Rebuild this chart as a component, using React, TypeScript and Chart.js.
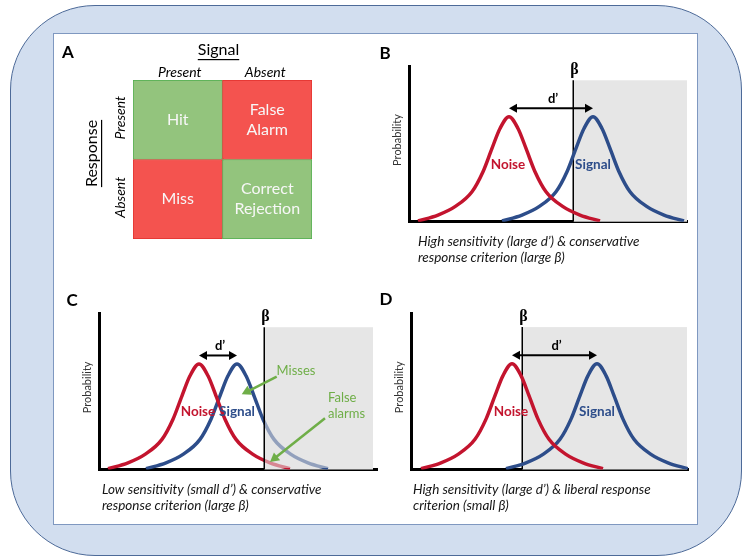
import React, { useEffect, useRef } from "react";
import { Chart, registerables } from "chart.js";

Chart.register(...registerables);

const FONT = "Lato, 'Open Sans', 'DejaVu Sans', sans-serif";
const GREEK_FONT = "'Liberation Serif', 'DejaVu Serif', serif";

// ---------------- Panel A: outcome matrix ----------------
const SIGNAL_LEVELS = ["Present", "Absent"];
const RESPONSE_LEVELS = ["Present", "Absent"]; // top row, bottom row
const ROW_PRESENT_LABELS = ["Hit", "False\nAlarm"];
const ROW_ABSENT_LABELS = ["Miss", "Correct\nRejection"];
const ROW_PRESENT_VALUES = [1, 1];
const ROW_ABSENT_VALUES = [1, 1];

// ---------------- Panels B–D: noise / signal distributions ----------------
// shared curve height profile (% of axis height)
const DIST_Y = [0.5, 4.3, 9.7, 19.3, 32.2, 47.2, 60.0, 67.6, 60.0, 47.2, 32.2, 19.3, 9.7, 4.3, 0.5];

const B_NOISE_X = [9, 29, 46, 63, 74, 83, 91, 100, 109, 117, 126, 137, 154, 171, 191];
const B_SIGNAL_X = [93, 113, 130, 147, 158, 167, 175, 184, 193, 201, 210, 221, 238, 255, 275];
const C_NOISE_X = [9, 29, 46, 63, 74, 83, 91, 100, 109, 117, 126, 137, 154, 171, 191];
const C_SIGNAL_X = [47, 67, 84, 101, 112, 121, 129, 138, 147, 155, 164, 175, 192, 209, 229];
const D_NOISE_X = [10, 30, 47, 64, 75, 84, 92, 101, 110, 118, 127, 138, 155, 172, 192];
const D_SIGNAL_X = [95, 115, 132, 149, 160, 169, 177, 186, 195, 203, 212, 223, 240, 257, 277];

const B_BETA = 164;
const C_BETA = 165;
const D_BETA = 111;

const B_CAPTION = ["High sensitivity (large d\u2019) & conservative", "response criterion (large \u03B2)"];
const C_CAPTION = ["Low sensitivity (small d\u2019) & conservative", "response criterion (large \u03B2)"];
const D_CAPTION = ["High sensitivity (large d\u2019) & liberal response", "criterion (small \u03B2)"];

const C_NOTE_TEXT = [
  { text: "Misses", x: 197, y: 63, align: "center" as CanvasTextAlign },
  { text: "False", x: 229, y: 46, align: "left" as CanvasTextAlign },
  { text: "alarms", x: 229, y: 35.5, align: "left" as CanvasTextAlign },
];
const C_NOTE_ARROWS = [
  { from: [177.7, 59.4], to: [142.7, 48.1] },
  { from: [226, 32.8], to: [171, 4.8] },
];

// ---------------- colours ----------------
const CELL_GREEN = "#93c47d";
const CELL_GREEN_EDGE = "#4fae4f";
const CELL_RED = "#f4534f";
const CELL_RED_EDGE = "#e2302c";
const NOISE_RED = "#c3142e";
const SIGNAL_BLUE = "#2d4d8a";
const GRAY = "#e6e6e6";
const NOTE_GREEN = "#6fae48";

type Box = { left: number; top: number; width: number; height: number };
type Area = { left: number; top: number; right: number; bottom: number };

function padFor(box: Box, area: Area) {
  return {
    left: area.left - box.left,
    top: area.top - box.top,
    right: box.left + box.width - area.right,
    bottom: box.top + box.height - area.bottom,
  };
}

function arrow(
  ctx: CanvasRenderingContext2D,
  x1: number, y1: number, x2: number, y2: number,
  len: number, half: number, both: boolean, width: number, color: string
) {
  const a = Math.atan2(y2 - y1, x2 - x1);
  const c = Math.cos(a), s = Math.sin(a);
  ctx.save();
  ctx.strokeStyle = color;
  ctx.fillStyle = color;
  ctx.lineWidth = width;
  ctx.beginPath();
  const sx = both ? x1 + c * len * 0.7 : x1;
  const sy = both ? y1 + s * len * 0.7 : y1;
  ctx.moveTo(sx, sy);
  ctx.lineTo(x2 - c * len * 0.7, y2 - s * len * 0.7);
  ctx.stroke();
  const head = (hx: number, hy: number, dc: number, ds: number) => {
    ctx.beginPath();
    ctx.moveTo(hx, hy);
    ctx.lineTo(hx - dc * len + ds * half, hy - ds * len - dc * half);
    ctx.lineTo(hx - dc * len - ds * half, hy - ds * len + dc * half);
    ctx.closePath();
    ctx.fill();
  };
  head(x2, y2, c, s);
  if (both) head(x1, y1, -c, -s);
  ctx.restore();
}

function ChartCanvas({ box, make }: { box: Box; make: (c: HTMLCanvasElement) => Chart }) {
  const ref = useRef<HTMLCanvasElement>(null);
  useEffect(() => {
    const chart = make(ref.current as HTMLCanvasElement);
    return () => chart.destroy();
  }, []);
  return (
    <canvas
      ref={ref}
      width={box.width}
      height={box.height}
      style={{ position: "absolute", left: box.left, top: box.top, width: box.width, height: box.height }}
    />
  );
}

// ---------------- Panel A ----------------
const A_BOX: Box = { left: 56, top: 36, width: 300, height: 220 };
const A_AREA: Area = { left: 133, top: 80, right: 312, bottom: 239 };

function makeMatrix(canvas: HTMLCanvasElement) {
  const labelPlugin = {
    id: "matrixText",
    afterDraw(chart: any) {
      const ctx: CanvasRenderingContext2D = chart.ctx;
      const ca = chart.chartArea;
      const xs = chart.scales.x;
      const ys = chart.scales.y;
      ctx.save();
      ctx.textAlign = "center";
      ctx.textBaseline = "middle";
      // panel letter
      ctx.fillStyle = "#000";
      ctx.font = `bold 17px ${FONT}`;
      ctx.fillText("A", ca.left - 65, ca.top - 27);
      // Signal title (underlined)
      const midX = (ca.left + ca.right) / 2;
      ctx.font = `16px ${FONT}`;
      ctx.fillText("Signal", midX - 4, ca.top - 30);
      let w = ctx.measureText("Signal").width;
      ctx.fillRect(midX - 4 - w / 2, ca.top - 21, w, 1.2);
      // column labels
      ctx.font = `italic 14px ${FONT}`;
      SIGNAL_LEVELS.forEach((lab, i) => {
        ctx.fillText(lab, xs.getPixelForValue(i) + (i === 0 ? 2 : -2), ca.top - 8);
      });
      // Response title (rotated, underlined)
      const midY = (ca.top + ca.bottom) / 2;
      ctx.save();
      ctx.translate(ca.left - 41, midY - 6);
      ctx.rotate(-Math.PI / 2);
      ctx.font = `16px ${FONT}`;
      ctx.fillText("Response", 0, 0);
      w = ctx.measureText("Response").width;
      ctx.fillRect(-w / 2, 9, w, 1.2);
      ctx.restore();
      // row labels (rotated)
      ctx.font = `italic 14px ${FONT}`;
      RESPONSE_LEVELS.forEach((lab, i) => {
        const yv = i === 0 ? 1.5 : 0.5;
        ctx.save();
        ctx.translate(ca.left - 13, ys.getPixelForValue(yv) - 2);
        ctx.rotate(-Math.PI / 2);
        ctx.fillText(lab, 0, 0);
        ctx.restore();
      });
      // cell labels
      ctx.fillStyle = "#f7f7f7";
      ctx.font = `16px ${FONT}`;
      const rows = [ROW_ABSENT_LABELS, ROW_PRESENT_LABELS];
      rows.forEach((labels, di) => {
        const meta = chart.getDatasetMeta(di);
        meta.data.forEach((el: any, j: number) => {
          const p = el.getProps(["x", "y", "base"], true);
          const cy = (p.y + p.base) / 2;
          const lines = labels[j].split("\n");
          lines.forEach((ln: string, k: number) => {
            ctx.fillText(ln, p.x, cy + (k - (lines.length - 1) / 2) * 20);
          });
        });
      });
      ctx.restore();
    },
  };
  return new Chart(canvas, {
    type: "bar",
    data: {
      labels: SIGNAL_LEVELS,
      datasets: [
        {
          label: "Response: Absent",
          data: ROW_ABSENT_VALUES,
          backgroundColor: [CELL_RED, CELL_GREEN],
          borderColor: [CELL_RED_EDGE, CELL_GREEN_EDGE],
          borderWidth: 1,
          borderSkipped: false,
          barPercentage: 1,
          categoryPercentage: 1,
        },
        {
          label: "Response: Present",
          data: ROW_PRESENT_VALUES,
          backgroundColor: [CELL_GREEN, CELL_RED],
          borderColor: [CELL_GREEN_EDGE, CELL_RED_EDGE],
          borderWidth: 1,
          borderSkipped: false,
          barPercentage: 1,
          categoryPercentage: 1,
        },
      ],
    },
    options: {
      animation: false,
      responsive: false,
      maintainAspectRatio: false,
      events: [],
      layout: { padding: padFor(A_BOX, A_AREA) },
      plugins: { legend: { display: false }, tooltip: { enabled: false } },
      scales: {
        x: { display: false, stacked: true },
        y: { display: false, stacked: true, min: 0, max: 2 },
      },
    },
    plugins: [labelPlugin],
  } as any);
}

// ---------------- Panels B–D ----------------
type PanelConfig = {
  letter: string;
  letterDx: number;
  box: Box;
  area: Area;
  xMax: number;
  noiseX: number[];
  signalX: number[];
  beta: number;
  grayRight: number;
  fade: boolean;
  caption: string[];
  captionIndent: number;
  notes: boolean;
};

const GRAY_TOP = 91;
const DPRIME_Y = 73;

function makeDistPanel(cfg: PanelConfig) {
  return (canvas: HTMLCanvasElement) => {
    const noisePeak = cfg.noiseX[7];
    const signalPeak = cfg.signalX[7];
    const drawBeta = (chart: any) => {
      const ctx: CanvasRenderingContext2D = chart.ctx;
      const xs = chart.scales.x, ys = chart.scales.y;
      const bx = Math.round(xs.getPixelForValue(cfg.beta)) + 0.25;
      ctx.save();
      ctx.strokeStyle = "#000";
      ctx.lineWidth = 1.5;
      ctx.beginPath();
      ctx.moveTo(bx, ys.getPixelForValue(GRAY_TOP));
      ctx.lineTo(bx, ys.getPixelForValue(0));
      ctx.stroke();
      ctx.restore();
    };
    const plugin = {
      id: "sdt" + cfg.letter,
      beforeDatasetsDraw(chart: any) {
        const ctx: CanvasRenderingContext2D = chart.ctx;
        const xs = chart.scales.x, ys = chart.scales.y;
        const x0 = xs.getPixelForValue(cfg.beta);
        const x1 = xs.getPixelForValue(cfg.grayRight);
        const y0 = ys.getPixelForValue(GRAY_TOP);
        const y1 = ys.getPixelForValue(0);
        ctx.save();
        ctx.fillStyle = GRAY;
        ctx.fillRect(x0, y0, x1 - x0, y1 - y0);
        ctx.restore();
        if (!cfg.fade) drawBeta(chart);
      },
      afterDatasetsDraw(chart: any) {
        const ctx: CanvasRenderingContext2D = chart.ctx;
        const xs = chart.scales.x, ys = chart.scales.y;
        if (cfg.fade) {
          const x0 = xs.getPixelForValue(cfg.beta);
          const x1 = xs.getPixelForValue(cfg.grayRight);
          const y0 = ys.getPixelForValue(GRAY_TOP);
          const y1 = ys.getPixelForValue(0) - 1.5;
          ctx.save();
          ctx.fillStyle = "rgba(230,230,230,0.55)";
          ctx.fillRect(x0, y0, x1 - x0, y1 - y0);
          ctx.restore();
          drawBeta(chart);
        }
      },
      afterDraw(chart: any) {
        const ctx: CanvasRenderingContext2D = chart.ctx;
        const ca = chart.chartArea;
        const xs = chart.scales.x, ys = chart.scales.y;
        ctx.save();
        ctx.textAlign = "center";
        ctx.textBaseline = "middle";
        // beta label
        ctx.fillStyle = "#000";
        ctx.font = `bold 16px ${GREEK_FONT}`;
        ctx.fillText("\u03B2", xs.getPixelForValue(cfg.beta) + 1.5, ys.getPixelForValue(97.5));
        // d' arrow
        arrow(
          ctx,
          xs.getPixelForValue(noisePeak), ys.getPixelForValue(DPRIME_Y),
          xs.getPixelForValue(signalPeak), ys.getPixelForValue(DPRIME_Y),
          8, 4.5, true, 2, "#000"
        );
        ctx.font = `bold 13px ${FONT}`;
        ctx.fillText("d\u2019", xs.getPixelForValue((noisePeak + signalPeak) / 2) + 2, ys.getPixelForValue(79));
        // distribution labels
        ctx.font = `bold 13.5px ${FONT}`;
        ctx.fillStyle = NOISE_RED;
        ctx.fillText("Noise", xs.getPixelForValue(noisePeak - 1), ys.getPixelForValue(37));
        ctx.fillStyle = SIGNAL_BLUE;
        ctx.fillText("Signal", xs.getPixelForValue(signalPeak), ys.getPixelForValue(37));
        // annotations
        if (cfg.notes) {
          ctx.fillStyle = NOTE_GREEN;
          ctx.font = `13px ${FONT}`;
          C_NOTE_TEXT.forEach((n) => {
            ctx.textAlign = n.align;
            ctx.fillText(n.text, xs.getPixelForValue(n.x), ys.getPixelForValue(n.y));
          });
          C_NOTE_ARROWS.forEach((a) => {
            arrow(
              ctx,
              xs.getPixelForValue(a.from[0]), ys.getPixelForValue(a.from[1]),
              xs.getPixelForValue(a.to[0]), ys.getPixelForValue(a.to[1]),
              9, 5, false, 2.5, NOTE_GREEN
            );
          });
          ctx.textAlign = "center";
        }
        // panel letter
        ctx.fillStyle = "#000";
        ctx.font = `bold 17px ${FONT}`;
        ctx.fillText(cfg.letter, ca.left + cfg.letterDx, ca.top - 13);
        // y axis title
        ctx.save();
        ctx.translate(ca.left - 11.5, (ca.top + ca.bottom) / 2 - 4);
        ctx.rotate(-Math.PI / 2);
        ctx.fillStyle = "#333";
        ctx.font = `11px ${FONT}`;
        ctx.fillText("Probability", 0, 0);
        ctx.restore();
        // caption
        ctx.textAlign = "left";
        ctx.fillStyle = "#151515";
        ctx.font = `italic 13.5px ${FONT}`;
        cfg.caption.forEach((ln, k) => {
          ctx.fillText(ln, ca.left + cfg.captionIndent, ca.bottom + 20 + k * 16);
        });
        ctx.restore();
      },
    };
    const axisOpts = (max: number) => ({
      type: "linear",
      min: 0,
      max,
      ticks: { display: false },
      grid: { display: false, drawTicks: false },
      border: { display: true, width: 3, color: "#000" },
    });
    return new Chart(canvas, {
      type: "line",
      data: {
        datasets: [
          {
            label: "Noise",
            data: cfg.noiseX.map((x, i) => ({ x, y: DIST_Y[i] })),
            borderColor: NOISE_RED,
            borderWidth: 3.5,
            pointRadius: 0,
            cubicInterpolationMode: "monotone",
            fill: false,
          },
          {
            label: "Signal",
            data: cfg.signalX.map((x, i) => ({ x, y: DIST_Y[i] })),
            borderColor: SIGNAL_BLUE,
            borderWidth: 3.5,
            pointRadius: 0,
            cubicInterpolationMode: "monotone",
            fill: false,
          },
        ],
      },
      options: {
        animation: false,
        responsive: false,
        maintainAspectRatio: false,
        events: [],
        layout: { padding: padFor(cfg.box, cfg.area) },
        plugins: { legend: { display: false }, tooltip: { enabled: false } },
        scales: { x: axisOpts(cfg.xMax), y: axisOpts(100) },
      },
      plugins: [plugin],
    } as any);
  };
}

const PANEL_B: PanelConfig = {
  letter: "B",
  letterDx: -24,
  box: { left: 360, top: 36, width: 335, height: 240 },
  area: { left: 409, top: 66.3, right: 687, bottom: 221.7 },
  xMax: 278,
  noiseX: B_NOISE_X,
  signalX: B_SIGNAL_X,
  beta: B_BETA,
  grayRight: 278,
  fade: false,
  caption: B_CAPTION,
  captionIndent: 9,
  notes: false,
};

const PANEL_C: PanelConfig = {
  letter: "C",
  letterDx: -27,
  box: { left: 45, top: 284, width: 340, height: 240 },
  area: { left: 99, top: 313.3, right: 377, bottom: 469.5 },
  xMax: 278,
  noiseX: C_NOISE_X,
  signalX: C_SIGNAL_X,
  beta: C_BETA,
  grayRight: 274,
  fade: true,
  caption: C_CAPTION,
  captionIndent: 3,
  notes: true,
};

const PANEL_D: PanelConfig = {
  letter: "D",
  letterDx: -25,
  box: { left: 365, top: 284, width: 330, height: 240 },
  area: { left: 411, top: 313, right: 688, bottom: 469.5 },
  xMax: 277,
  noiseX: D_NOISE_X,
  signalX: D_SIGNAL_X,
  beta: D_BETA,
  grayRight: 276,
  fade: false,
  caption: D_CAPTION,
  captionIndent: 2,
  notes: false,
};

export default function App() {
  return (
    <div
      style={{
        position: "fixed",
        left: 0,
        top: 0,
        width: 750,
        height: 559,
        background: "#ffffff",
        overflow: "hidden",
      }}
    >
      <div
        style={{
          position: "absolute",
          left: 10,
          top: 5,
          width: 732,
          height: 551,
          boxSizing: "border-box",
          border: "1.5px solid #4d6a98",
          borderRadius: 85,
          background: "#d2deef",
        }}
      />
      <div
        style={{
          position: "absolute",
          left: 53,
          top: 33,
          width: 645,
          height: 492,
          boxSizing: "border-box",
          border: "1.5px solid #7f98c0",
          background: "#ffffff",
        }}
      />
      <ChartCanvas box={A_BOX} make={makeMatrix} />
      <ChartCanvas box={PANEL_B.box} make={makeDistPanel(PANEL_B)} />
      <ChartCanvas box={PANEL_C.box} make={makeDistPanel(PANEL_C)} />
      <ChartCanvas box={PANEL_D.box} make={makeDistPanel(PANEL_D)} />
    </div>
  );
}
